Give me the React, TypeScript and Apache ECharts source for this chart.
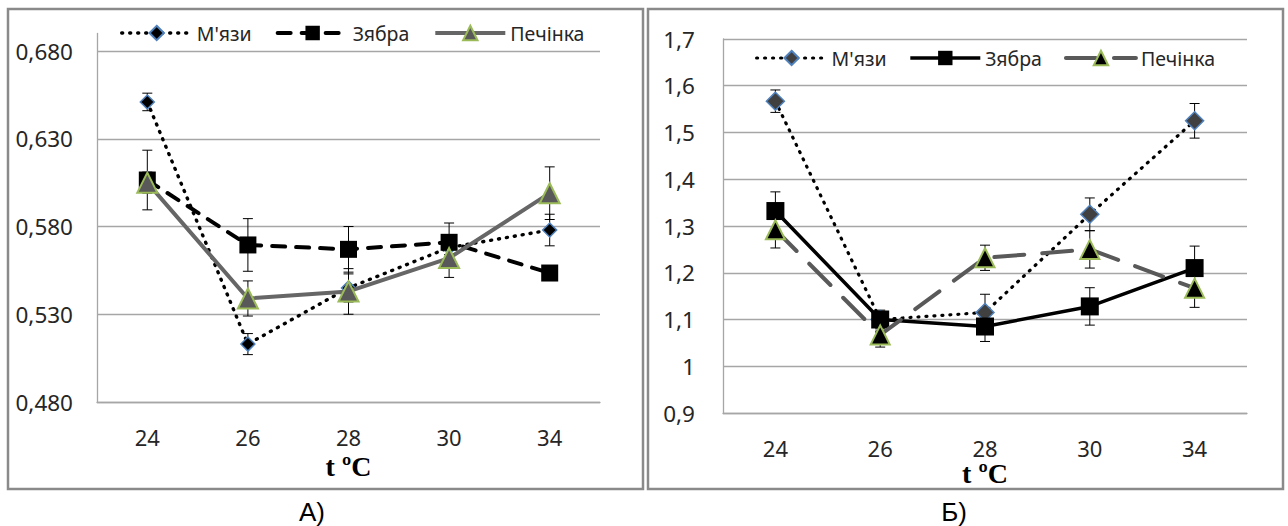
import React, { useEffect, useRef } from 'react';
import * as echarts from 'echarts';

const categories = ['24', '26', '28', '30', '34'];
const seriesNames = ["М'язи", 'Зябра', 'Печінка'];

// Chart А
const muscleA = [0.651, 0.513, 0.545, 0.568, 0.578];
const gillsA = [0.6065, 0.5695, 0.567, 0.571, 0.5535];
const liverA = [0.605, 0.539, 0.543, 0.562, 0.599];
const muscleErrA = [0.005, 0.006, 0.008, 0.004, 0.009];
const gillsErrA = [0.017, 0.015, 0.013, 0.011, 0.003];
const liverErrA = [0.006, 0.010, 0.013, 0.011, 0.015];
const yTicksA = [0.48, 0.53, 0.58, 0.63, 0.68];

// Chart Б
const muscleB = [1.567, 1.1, 1.115, 1.325, 1.525];
const gillsB = [1.332, 1.1, 1.085, 1.128, 1.21];
const liverB = [1.292, 1.067, 1.232, 1.25, 1.167];
const muscleErrB = [0.024, 0.01, 0.039, 0.035, 0.037];
const gillsErrB = [0.041, 0.02, 0.032, 0.04, 0.047];
const liverErrB = [0.039, 0.026, 0.027, 0.04, 0.041];
const yTicksB = [0.9, 1.0, 1.1, 1.2, 1.3, 1.4, 1.5, 1.6, 1.7];

const SANS = '"Noto Sans", "Liberation Sans", sans-serif';
const GRID = '#a6a6a6';
const TXT = '#262626';

function errSeries(vals: number[], errs: number[]) {
  return {
    type: 'custom',
    silent: true,
    z: 1,
    data: vals.map((v, i) => [i, v - errs[i], v + errs[i]]),
    encode: { x: 0, y: [1, 2] },
    renderItem: (params: any, api: any) => {
      const i = api.value(0);
      const lo = api.coord([i, api.value(1)]);
      const hi = api.coord([i, api.value(2)]);
      const w = 5;
      const st = { stroke: '#000', lineWidth: 1 };
      return {
        type: 'group',
        children: [
          { type: 'line', shape: { x1: lo[0], y1: lo[1], x2: hi[0], y2: hi[1] }, style: st },
          { type: 'line', shape: { x1: lo[0] - w, y1: lo[1], x2: lo[0] + w, y2: lo[1] }, style: st },
          { type: 'line', shape: { x1: hi[0] - w, y1: hi[1], x2: hi[0] + w, y2: hi[1] }, style: st },
        ],
      };
    },
  };
}

function buildOption(cfg: any) {
  const lineStyles = [
    { color: '#000', width: cfg.dotWidth, type: [1, 7], cap: 'round' },
    cfg.gillsLine,
    cfg.liverLine,
  ];
  return {
    animation: false,
    backgroundColor: '#fff',
    grid: cfg.grid,
    legend: {
      data: seriesNames.map((n, k) => ({ name: n, lineStyle: { width: lineStyles[k].width } })),
      top: cfg.legendTop,
      left: cfg.legendLeft,
      itemWidth: 70,
      itemHeight: 18,
      itemGap: cfg.legendGap,
      lineStyle: { width: 4 },
      textStyle: { fontFamily: SANS, fontSize: 19.5, color: TXT },
      selectedMode: false,
    },
    xAxis: {
      type: 'category',
      data: categories,
      boundaryGap: true,
      axisLine: { show: true, lineStyle: { color: GRID, width: 1.3 } },
      axisTick: { show: false },
      axisLabel: { fontFamily: SANS, fontSize: 22, color: TXT, margin: 24 },
      splitLine: { show: false },
      name: 't ºC',
      nameLocation: 'middle',
      nameGap: cfg.nameGap,
      nameMoveOverlap: false,
      nameTextStyle: { fontFamily: '"Liberation Serif", serif', fontWeight: 'bold', fontSize: 28, color: '#000' },
    },
    yAxis: {
      type: 'value',
      min: cfg.yMin,
      max: cfg.yMax,
      axisLine: { show: true, lineStyle: { color: GRID, width: 1.3 } },
      axisTick: { show: false, customValues: cfg.yTicks },
      axisLabel: {
        customValues: cfg.yTicks,
        fontFamily: SANS,
        fontSize: 22.5,
        color: TXT,
        margin: cfg.yLabelMargin,
        formatter: cfg.yFmt,
      },
      splitLine: { show: true, lineStyle: { color: GRID, width: 1.3 } },
    },
    graphic: [
      {
        type: 'rect',
        shape: cfg.frame,
        style: { fill: 'none', stroke: '#8a8a8a', lineWidth: 2.5 },
        silent: true,
      },
      {
        type: 'text',
        x: cfg.letterX,
        y: 512,
        style: {
          text: cfg.letter,
          font: '26px "Liberation Sans", Arial, sans-serif',
          fill: '#000',
          align: 'center',
          verticalAlign: 'middle',
        },
      },
    ],
    series: [
      errSeries(cfg.muscle, cfg.muscleErr),
      errSeries(cfg.gills, cfg.gillsErr),
      errSeries(cfg.liver, cfg.liverErr),
      {
        name: seriesNames[0],
        type: 'line',
        z: 2,
        data: cfg.muscle,
        symbol: 'diamond',
        symbolSize: cfg.diamondSize,
        itemStyle: { color: cfg.diamondFill, borderColor: '#4f81bd', borderWidth: 1.5 },
        lineStyle: lineStyles[0],
      },
      {
        name: seriesNames[1],
        type: 'line',
        z: 3,
        data: cfg.gills,
        symbol: 'rect',
        symbolSize: cfg.squareSize,
        itemStyle: { color: '#000', borderColor: '#000', borderWidth: 0 },
        lineStyle: lineStyles[1],
      },
      {
        name: seriesNames[2],
        type: 'line',
        z: 4,
        data: cfg.liver,
        symbol: 'triangle',
        symbolSize: cfg.triSize,
        itemStyle: { color: cfg.triFill, borderColor: '#9bbb59', borderWidth: 2 },
        lineStyle: lineStyles[2],
      },
    ],
  };
}

const fmtA = (v: number) => v.toFixed(3).replace('.', ',');
const fmtB = (v: number) => (Math.abs(v - 1) < 1e-9 ? '1' : v.toFixed(1).replace('.', ','));

export default function App() {
  const refA = useRef<HTMLDivElement>(null);
  const refB = useRef<HTMLDivElement>(null);

  useEffect(() => {
    const chartA = echarts.init(refA.current!, null, { renderer: 'svg' });
    const chartB = echarts.init(refB.current!, null, { renderer: 'svg' });

    chartA.setOption(
      buildOption({
        grid: { left: 97, right: 45, top: 33.5, bottom: 124 },
        legendTop: 18,
        legendLeft: 115,
        legendGap: 24,
        nameGap: 50,
        yMin: 0.48,
        yMax: 0.69,
        yTicks: yTicksA,
        yFmt: fmtA,
        yLabelMargin: 24,
        frame: { x: 8, y: 9, width: 635, height: 480 },
        letter: 'А)',
        letterX: 312,
        muscle: muscleA,
        gills: gillsA,
        liver: liverA,
        muscleErr: muscleErrA,
        gillsErr: gillsErrA,
        liverErr: liverErrA,
        diamondSize: 14,
        diamondFill: '#000',
        dotWidth: 3.4,
        squareSize: 17,
        gillsLine: { color: '#000', width: 4, type: [13, 11], cap: 'round' },
        triSize: 20,
        triFill: '#595959',
        liverLine: { color: '#666666', width: 4, type: 'solid' },
      }) as any
    );

    chartB.setOption(
      buildOption({
        grid: { left: 78, right: 41, top: 39, bottom: 113 },
        legendTop: 43,
        legendLeft: 105,
        legendGap: 22,
        nameGap: 46,
        yMin: 0.9,
        yMax: 1.7,
        yTicks: yTicksB,
        yFmt: fmtB,
        yLabelMargin: 28,
        frame: { x: 3, y: 9, width: 635, height: 480 },
        letter: 'Б)',
        letterX: 309,
        muscle: muscleB,
        gills: gillsB,
        liver: liverB,
        muscleErr: muscleErrB,
        gillsErr: gillsErrB,
        liverErr: liverErrB,
        diamondSize: 18,
        diamondFill: '#404040',
        dotWidth: 3.2,
        squareSize: 18,
        gillsLine: { color: '#000', width: 3.5, type: 'solid' },
        triSize: 19,
        triFill: '#000',
        liverLine: { color: '#595959', width: 4, type: [30, 18], cap: 'round' },
      }) as any
    );

    return () => {
      chartA.dispose();
      chartB.dispose();
    };
  }, []);

  return (
    <div
      style={{
        position: 'absolute',
        left: 0,
        top: 0,
        width: 1288,
        height: 526,
        display: 'flex',
        background: '#fff',
      }}
    >
      <div ref={refA} style={{ width: 645, height: 526 }} />
      <div ref={refB} style={{ width: 643, height: 526 }} />
    </div>
  );
}
